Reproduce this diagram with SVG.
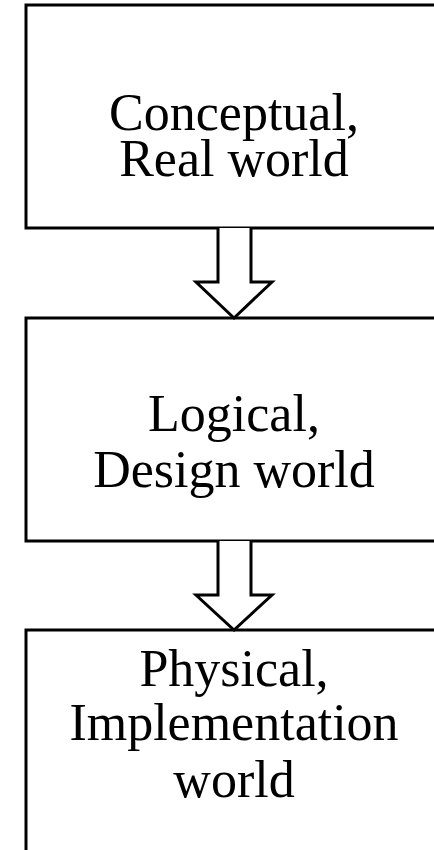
<svg xmlns="http://www.w3.org/2000/svg" width="434" height="850" viewBox="0 0 434 850">
<style>
.box{fill:#fff;stroke:#000;stroke-width:3}
.arr{fill:#fff;stroke:#000;stroke-width:3;stroke-linejoin:miter}
.t{font-family:"Liberation Serif","Times New Roman",serif;font-size:52px;fill:#000;text-anchor:middle}
</style>
<rect width="434" height="850" fill="#fff"/>
<g id="n1">
<rect class="box" x="26" y="5" width="416" height="223"/>
<text class="t" x="234" y="130">Conceptual,</text>
<text class="t" x="234" y="176">Real world</text>
</g>
<g id="n2">
<rect class="box" x="26" y="318" width="416" height="223"/>
<text class="t" x="234" y="431">Logical,</text>
<text class="t" x="234" y="487">Design world</text>
</g>
<g id="n3">
<rect class="box" x="26" y="630" width="416" height="240"/>
<text class="t" x="234" y="686">Physical,</text>
<text class="t" x="234" y="740">Implementation</text>
<text class="t" x="234" y="797">world</text>
</g>
<g id="connectors">
<path class="arr" d="M218 228 V282 H196 L234 318 L272 282 H251 V228"/>
<path class="arr" d="M218 541 V595 H196 L234 630 L272 595 H251 V541"/>
</g>
</svg>
